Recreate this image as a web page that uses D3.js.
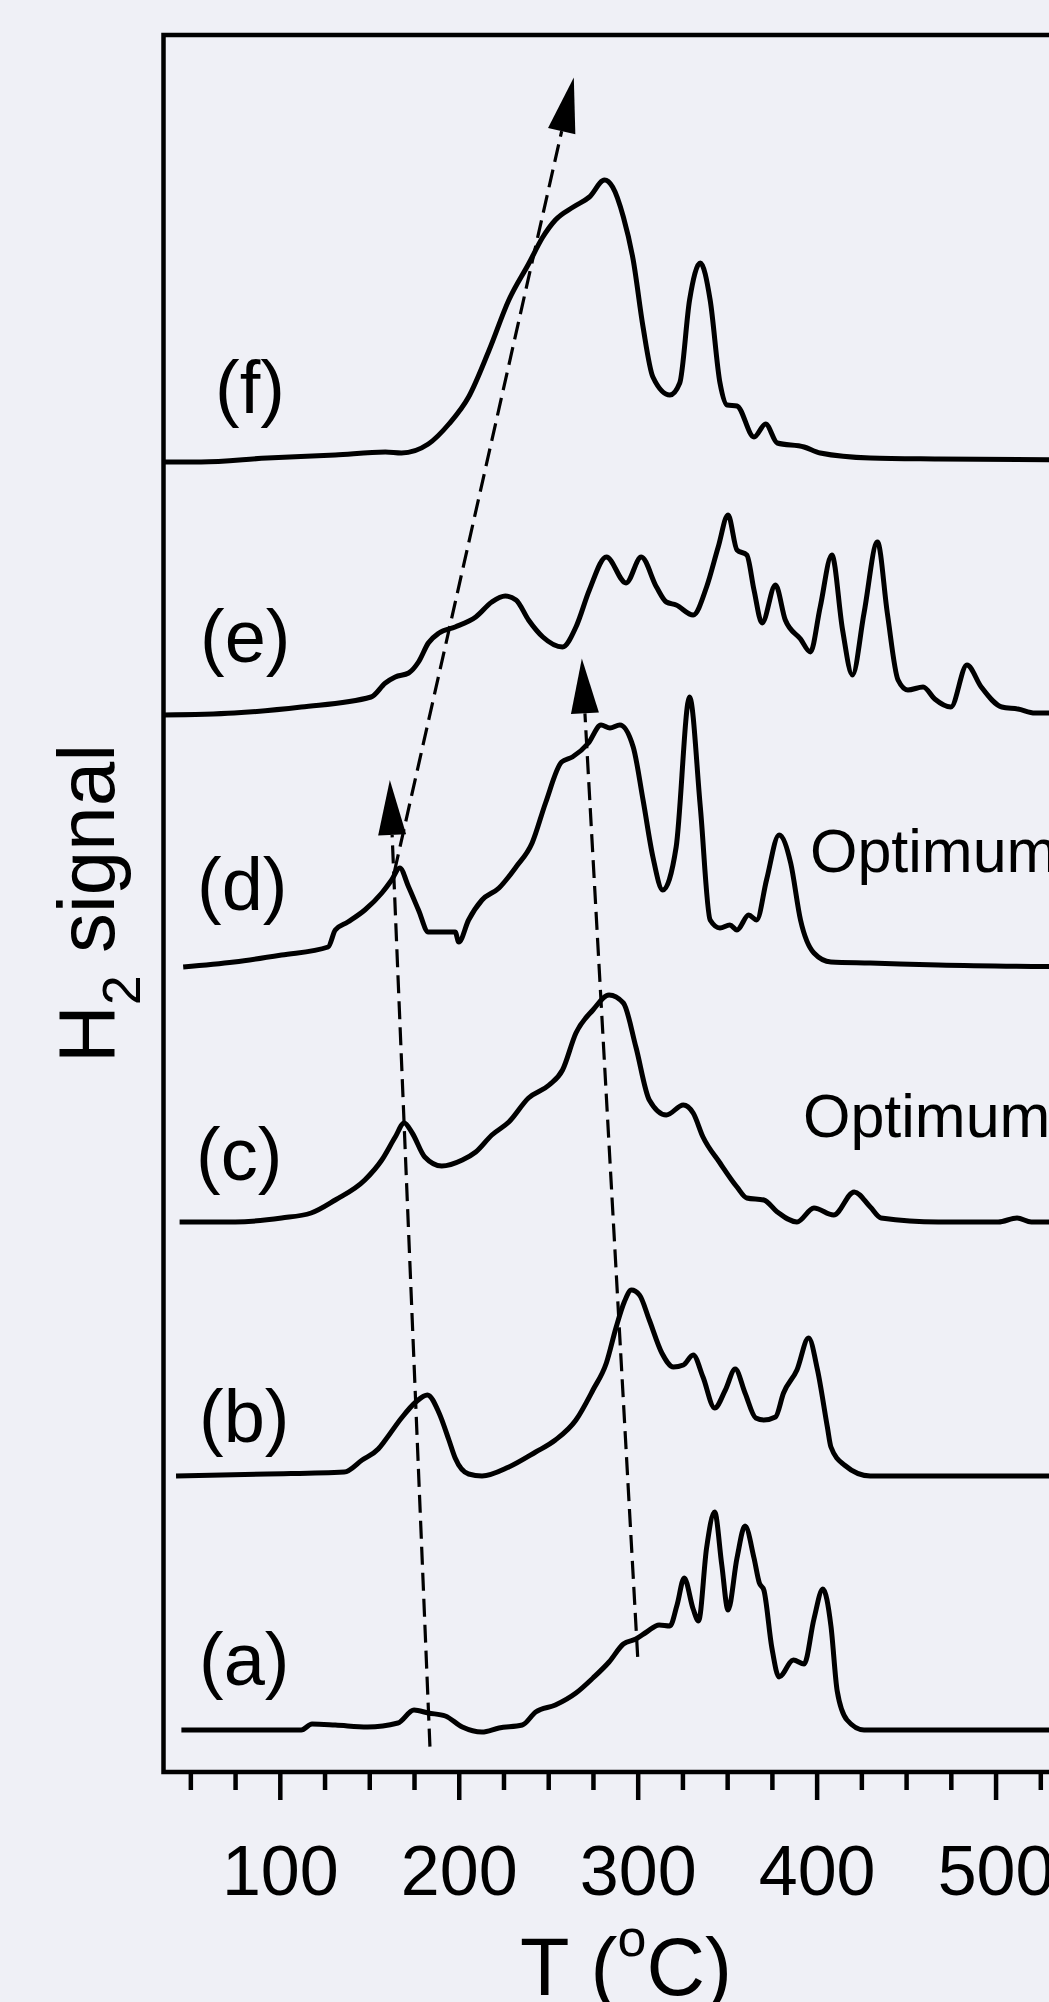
<html>
<head>
<script src="https://d3js.org/d3.v7.min.js"></script>
<style>
  body { margin: 0; background: #eff0f6; }
  text { font-family: "Liberation Sans", Arial, sans-serif; fill: #000; }
</style>
</head>
<body>
<svg id="svg" width="1049" height="2002"></svg>
<script>
// ---- data (T in degC, H2 signal in a.u. above each curve's own baseline) ----
var curveNames = ["(a)", "(b)", "(c)", "(d)", "(e)", "(f)"];
var curveOffsets = [21, 148, 275, 402.5, 528.5, 655];

var curveA = [[45,0],[75,0],[112,0],[118,3],[131,2.5],[149,1.5],[166,3.5],[175,10],[183,8.5],[192.5,7],[202,1.5],[213,-1],[222.5,1],[235.5,2.5],[243,9],[254,12.5],[265.5,18.5],[275,26],[284,34],[292,43],[299,45.5],[305,49],[312,52.5],[318,52],[322,62.5],[326,76],[331,60.5],[334,54.5],[338.5,91],[343,109],[347,82.5],[350.5,60],[355.5,86],[360,102],[365,86],[368,73.5],[370.5,70],[375,41],[379,26.5],[387,35],[393,33],[398.5,55.5],[403.5,70.5],[408,52],[411.5,19.5],[417,5],[426.5,0],[468,0],[560,0]];

var curveB = [[42,0],[93,1],[136,2],[146,8],[155,13.5],[159,18],[168,29],[176,37],[182.5,40.5],[189,31.5],[194.5,18],[198,9],[205.5,1],[213,0],[228,4.5],[243,12],[254,18],[265.5,28],[275,43],[282.5,56.5],[288,74.5],[292.5,87],[296.5,93],[301,90.5],[306.5,78],[313.5,61.5],[320,54.5],[325.5,55.5],[331,60.5],[336.5,49.5],[343,34],[349,43],[354.5,53.5],[360,41.5],[366,29],[370.5,28],[377,29.5],[381.5,41.5],[389,53],[395.5,69],[400.5,53],[406,24.5],[408,14.5],[415.5,5.5],[430,0],[468,0],[560,0]];

var curveC = [[44,0],[75,0],[101,2],[117.5,4.5],[131,11],[147.5,21],[157,31],[164.5,42.5],[169.5,49.5],[174,44.5],[181,32.5],[190.5,28],[202,31],[209.5,35],[218.5,43.5],[228,50],[239,62],[250.5,68.5],[258,76],[265.5,94.5],[275,106],[284,113.5],[292,109.5],[299,87.5],[306.5,61],[316,53.5],[325.5,58.5],[331,54.5],[336.5,42.5],[346,29.5],[355.5,17.5],[361,12],[370.5,11],[378,5],[389,0],[398.5,7],[409.5,3.5],[421,15],[430,7.5],[436,2],[468,0],[501.5,0],[512,2],[520,0],[560,0]];

var curveD = [[46,0],[74.5,2.5],[101,6],[127,10],[131,18.5],[138,22.5],[147.5,28.5],[157,37],[162.5,43.5],[167,49.5],[172,40],[177.5,28.5],[183,17.5],[198,17.5],[200,12.5],[205.5,23.5],[213,33.5],[222.5,39.5],[232,50],[241,62],[248.5,82],[257.5,102.5],[263.5,105],[272.5,112],[279.5,121],[284.5,119.5],[290,121],[297.5,110],[303,83.5],[308.5,55],[314,38.5],[321.5,60],[329,135],[335,80],[340.5,23.5],[346,19.5],[351.5,21],[355.5,18.5],[362,26],[366.5,23.5],[372,43.5],[379,66],[385.5,52],[391,23.5],[398.5,7],[408,2.5],[430,2],[468,1],[560,0]];

var curveE = [[35,0],[74.5,1],[112,4],[151,9],[159,16],[164.5,19],[172,21],[177.5,26.5],[183,36],[189,41],[198,44],[209.5,49],[218.5,56.5],[226,59.5],[232,57.5],[239,47.5],[247,39],[258,34],[265.5,44],[273,62.5],[282.5,79],[293.5,66],[302,79],[310.5,64],[316,56.5],[321.5,55],[331,50],[338.5,64],[345,84],[350.5,100],[355.5,82.5],[361,80],[365,62.5],[369.5,46],[377,65],[382.5,47.5],[391,38],[396.5,31.5],[402,54],[408.5,80],[414.5,42.5],[420,20],[426.5,51],[434,86.5],[439.5,51],[445.5,17.5],[451,12.5],[459.5,14],[466,8],[475,4],[484,25],[492,14],[503.5,4],[512.5,3],[522,1],[560,1]];

var curveF = [[35,0],[56,0],[93,2],[131,3.5],[159,5],[168,4.5],[183,9],[194.5,19],[205.5,32.5],[217,56],[228,81],[239,99],[247,112.5],[254,121],[264,127.5],[273,132.5],[281.5,141],[286,137.5],[292,122.5],[297.5,101],[303,67.5],[308.5,42.5],[318,33.5],[323.5,39.5],[329,81],[335,99.5],[340.5,81],[346,39.5],[350,28.5],[355.5,28],[365,12.5],[371.5,19],[378,9.5],[393,7.5],[402,4.5],[430,2],[468,1.5],[560,1]];

var curves = [curveA, curveB, curveC, curveD, curveE, curveF];

// dashed guide arrows: [T, signal] from tail to tip (absolute signal units)
var arrowA = [[183.9,12.7],[161.5,496]];
var arrowB = [[164,450],[264.3,847.3]];
var arrowC = [[300,57.6],[268.8,556.8]];
var arrows = [arrowA, arrowB, arrowC];

var majorTicks = [100, 200, 300, 400, 500, 600];
var minorTicks = [50, 75, 125, 150, 175, 225, 250, 275, 325, 350, 375, 425, 450, 475, 525, 550, 575];
var xTitle = "T (";
var yTitle = "H";
var noteText = "Optimum";

// ---- layout ----
var svg = d3.select("svg");
var width = +svg.attr("width");
var height = +svg.attr("height");

svg.append("rect").attr("width", width).attr("height", height).attr("fill", "#eff0f6");

var x = d3.scaleLinear().domain([35, 600]).range([163.5, 1174.5]);
var y = d3.scaleLinear().domain([0, 868.5]).range([1772, 35]);

// frame
svg.append("rect")
    .attr("x", x(35)).attr("y", y(868.5))
    .attr("width", x(600) - x(35)).attr("height", y(0) - y(868.5))
    .attr("fill", "none").attr("stroke", "#000").attr("stroke-width", 4.5);

// axis ticks
var minorAxis = d3.axisBottom(x).tickValues(minorTicks).tickSize(18).tickSizeOuter(0).tickFormat("");
var majorAxis = d3.axisBottom(x).tickValues(majorTicks).tickSize(28).tickSizeOuter(0).tickFormat(d3.format("d"));

var gMinor = svg.append("g").attr("transform", "translate(0," + y(0) + ")").call(minorAxis);
var gMajor = svg.append("g").attr("transform", "translate(0," + y(0) + ")").call(majorAxis);
[gMinor, gMajor].forEach(function(g){
    g.select(".domain").remove();
    g.selectAll(".tick line").attr("stroke", "#000").attr("stroke-width", 4.5);
});
gMajor.selectAll(".tick text")
    .attr("y", 123).attr("dy", 0)
    .attr("font-size", 70)
    .attr("font-family", "Liberation Sans, Arial, sans-serif")
    .attr("fill", "#000");

// axis titles
var xt = svg.append("text")
    .attr("x", 520).attr("y", 1995)
    .attr("font-size", 81);
xt.append("tspan").text(xTitle);
xt.append("tspan").attr("font-size", 52).attr("dy", -39).text("o");
xt.append("tspan").attr("dy", 39).text("C)");

var yt = svg.append("text")
    .attr("transform", "translate(114,1063) rotate(-90)")
    .attr("font-size", 80);
yt.append("tspan").text(yTitle);
yt.append("tspan").attr("font-size", 54).attr("dy", 26).text("2");
yt.append("tspan").attr("dy", -26).text(" signal");

// curves
var line = d3.line().curve(d3.curveMonotoneX);
var group = svg.append("g");
curves.forEach(function(c, i){
    var off = curveOffsets[i];
    group.append("path")
        .attr("d", line(c.map(function(p){ return [x(p[0]), y(off + p[1])]; })))
        .attr("fill", "none")
        .attr("stroke", "#000")
        .attr("stroke-width", 5)
        .attr("stroke-linejoin", "round");
});

// curve labels
var labelX = [199, 199, 196, 197, 200, 215];
var labelY = [1684.5, 1441.5, 1179.5, 909.5, 662, 413.3];
curveNames.forEach(function(n, i){
    svg.append("text").attr("x", labelX[i]).attr("y", labelY[i])
        .attr("font-size", 74).text(n);
});

// notes
svg.append("text").attr("x", 810).attr("y", 872).attr("font-size", 61).text(noteText);
svg.append("text").attr("x", 803).attr("y", 1137).attr("font-size", 61).text(noteText);

// dashed arrows
var headLen = 55, headHalf = 14;
arrows.forEach(function(a){
    var x0 = x(a[0][0]), y0 = y(a[0][1]);
    var x1 = x(a[1][0]), y1 = y(a[1][1]);
    var dx = x1 - x0, dy = y1 - y0;
    var len = Math.sqrt(dx*dx + dy*dy);
    var ux = dx/len, uy = dy/len;
    var bx = x1 - ux*headLen, by = y1 - uy*headLen;
    svg.append("path")
        .attr("d", "M" + x0 + " " + y0 + "L" + bx + " " + by)
        .attr("stroke", "#000").attr("stroke-width", 3.2)
        .attr("stroke-dasharray", "18,8").attr("fill", "none");
    svg.append("path")
        .attr("d", "M" + x1 + " " + y1 +
                   "L" + (bx - uy*headHalf) + " " + (by + ux*headHalf) +
                   "L" + (bx + uy*headHalf) + " " + (by - ux*headHalf) + "Z")
        .attr("fill", "#000");
});
</script>
</body>
</html>
